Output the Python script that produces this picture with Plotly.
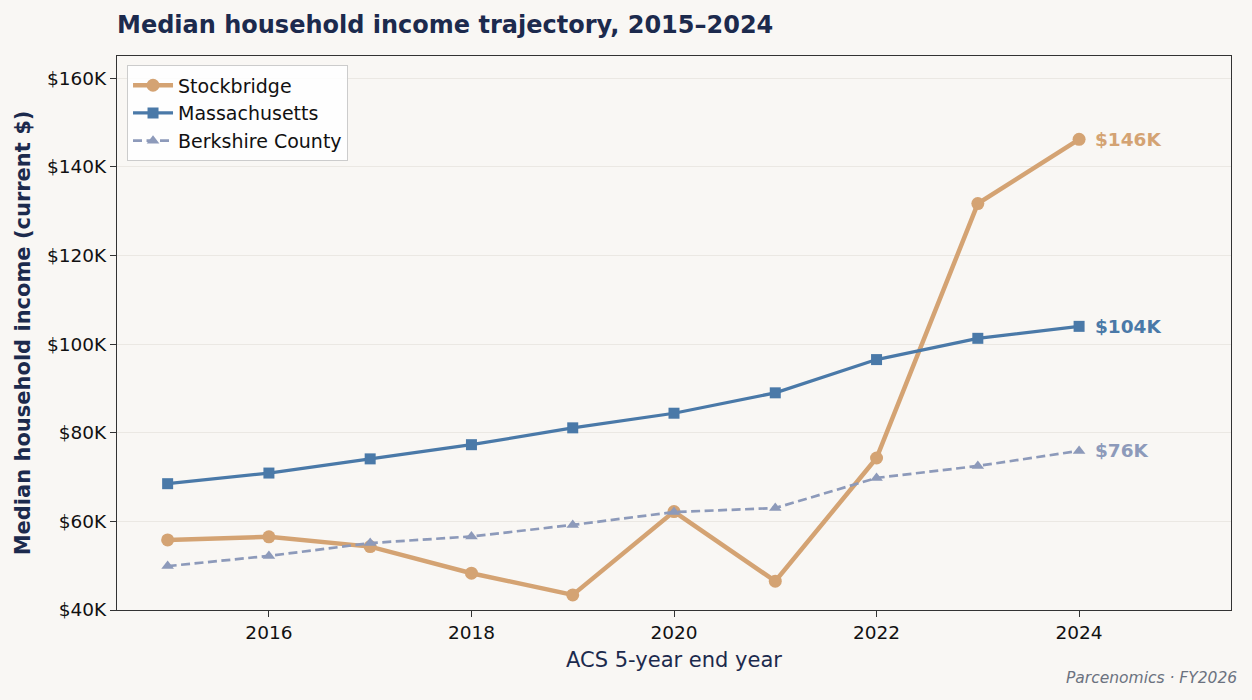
import plotly.graph_objects as go

years = [2015, 2016, 2017, 2018, 2019, 2020, 2021, 2022, 2023, 2024]
stockbridge = [55.8, 56.5, 54.3, 48.3, 43.4, 62.2, 46.5, 74.3, 131.7, 146.2]
massachusetts = [68.5, 70.9, 74.1, 77.3, 81.1, 84.4, 89.0, 96.5, 101.3, 104.0]
berkshire = [49.9, 52.2, 55.1, 56.6, 59.2, 62.1, 63.0, 69.8, 72.5, 75.9]
y_ticks = [40, 60, 80, 100, 120, 140, 160]
y_tick_labels = ["$40K", "$60K", "$80K", "$100K", "$120K", "$140K", "$160K"]
end_labels = ["$146K", "$104K", "$76K"]

C_SB = "#d4a373"
C_MA = "#4a79a8"
C_BK = "#8d9aba"
NAVY = "#1c2a4d"
FONT = "DejaVu Sans"

fig = go.Figure()
fig.add_trace(go.Scatter(x=years, y=stockbridge, name="Stockbridge", mode="lines+markers",
                         line=dict(color=C_SB, width=4.5), marker=dict(symbol="circle", size=13, color=C_SB)))
fig.add_trace(go.Scatter(x=years, y=massachusetts, name="Massachusetts", mode="lines+markers",
                         line=dict(color=C_MA, width=3.2), marker=dict(symbol="square", size=11, color=C_MA)))
fig.add_trace(go.Scatter(x=years, y=berkshire, name="Berkshire County", mode="lines+markers",
                         line=dict(color=C_BK, width=2.7, dash="9px,4.5px"),
                         marker=dict(symbol="triangle-up", size=11, color=C_BK)))

for series, lab, col in [(stockbridge, end_labels[0], C_SB), (massachusetts, end_labels[1], C_MA),
                         (berkshire, end_labels[2], C_BK)]:
    fig.add_annotation(x=years[-1], y=series[-1], text=f"<b>{lab}</b>", showarrow=False,
                       xanchor="left", yanchor="middle", xshift=14,
                       font=dict(family=FONT, size=18.5, color=col))

fig.add_annotation(text="<i>Parcenomics · FY2026</i>", xref="paper", yref="paper",
                   x=1.007, y=-0.122, xanchor="right", yanchor="middle", showarrow=False,
                   font=dict(family=FONT, size=15.5, color="#6b7280"))

fig.update_layout(
    width=1252, height=700,
    margin=dict(l=117, r=21, t=56, b=90),
    paper_bgcolor="#f9f7f4", plot_bgcolor="#f9f7f4",
    font=dict(family=FONT, size=18.5, color="#111111"),
    title=dict(text="<b>Median household income trajectory, 2015–2024</b>",
               x=117 / 1252, xanchor="left", y=1 - 25 / 700, yanchor="middle",
               font=dict(family=FONT, size=24, color=NAVY)),
    legend=dict(x=0.009, y=0.983, xanchor="left", yanchor="top",
                bgcolor="rgba(255,255,255,0.85)", bordercolor="#cccccc", borderwidth=1,
                font=dict(family=FONT, size=19, color="#111111"), itemwidth=40),
    showlegend=True,
)
fig.update_xaxes(range=[2014.5, 2025.5], tickvals=[2016, 2018, 2020, 2022, 2024],
                 ticks="outside", ticklen=6, tickcolor="#333333", showgrid=False, zeroline=False,
                 showline=True, linecolor="#333333", linewidth=1.3, mirror=True,
                 tickfont=dict(family=FONT, size=18.5, color="#111111"),
                 title=dict(text="ACS 5-year end year", font=dict(family=FONT, size=21, color=NAVY), standoff=9))
fig.update_yaxes(range=[40, 165], tickvals=y_ticks, ticktext=y_tick_labels,
                 ticks="outside", ticklen=6, tickcolor="#333333", showgrid=True, gridcolor="#ebe8e3",
                 gridwidth=1, zeroline=False,
                 showline=True, linecolor="#333333", linewidth=1.3, mirror=True,
                 tickfont=dict(family=FONT, size=18.5, color="#111111"),
                 title=dict(text="<b>Median household income (current $)</b>",
                            font=dict(family=FONT, size=21, color=NAVY), standoff=10))

fig.write_html("out.html")
